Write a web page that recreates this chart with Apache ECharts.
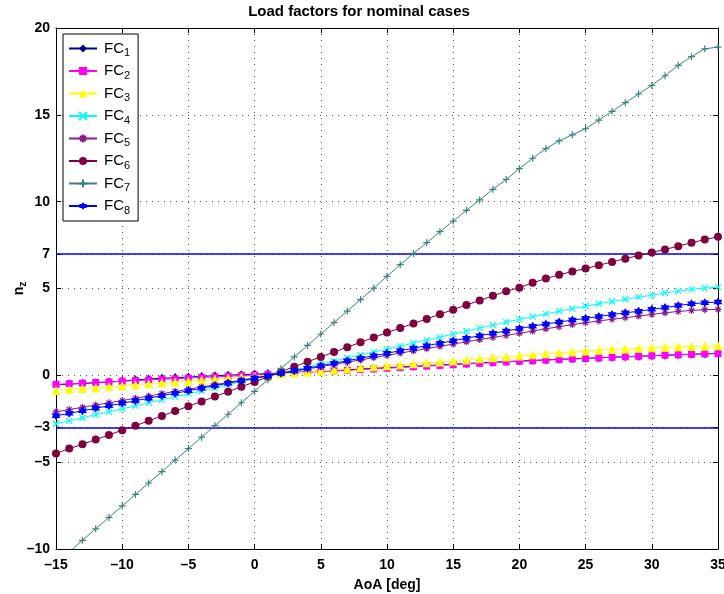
<!DOCTYPE html>
<html>
<head>
<meta charset="utf-8">
<script src="https://cdn.jsdelivr.net/npm/echarts@6/dist/echarts.min.js"></script>
<style>
  html, body { margin: 0; padding: 0; background: #fff; }
  #chart { width: 724px; height: 594px; }
</style>
</head>
<body>
<div id="chart"></div>
<script>
// angle of attack, one point per degree
const aoa = [-15, -14, -13, -12, -11, -10, -9, -8, -7, -6, -5, -4, -3, -2, -1, 0, 1, 2, 3, 4, 5, 6, 7, 8, 9, 10,
  11, 12, 13, 14, 15, 16, 17, 18, 19, 20, 21, 22, 23, 24, 25, 26, 27, 28, 29, 30, 31, 32, 33, 34, 35]

const fc1 = [-0.55, -0.51, -0.47, -0.43, -0.39, -0.33, -0.26, -0.21, -0.17, -0.13, -0.10, -0.06, -0.02, 0.01, 0.04, 0.07,
  0.10, 0.13, 0.17, 0.21, 0.25, 0.29, 0.32, 0.36, 0.40, 0.44, 0.48, 0.52, 0.56, 0.60, 0.64, 0.68, 0.72, 0.76, 0.79,
  0.83, 0.86, 0.89, 0.92, 0.95, 0.98, 1.01, 1.04, 1.07, 1.10, 1.13, 1.16, 1.19, 1.22, 1.24, 1.27]
const fc2 = [-0.52, -0.48, -0.45, -0.41, -0.38, -0.34, -0.30, -0.27, -0.23, -0.20, -0.16, -0.12, -0.09, -0.05, -0.02, 0.02,
  0.06, 0.10, 0.13, 0.17, 0.21, 0.25, 0.29, 0.33, 0.37, 0.41, 0.45, 0.49, 0.53, 0.57, 0.61, 0.65, 0.69, 0.73, 0.77,
  0.81, 0.84, 0.88, 0.91, 0.94, 0.97, 1.00, 1.04, 1.07, 1.10, 1.13, 1.16, 1.18, 1.21, 1.23, 1.25]
const fc3 = [-0.87, -0.82, -0.76, -0.71, -0.65, -0.60, -0.54, -0.49, -0.43, -0.38, -0.32, -0.27, -0.21, -0.16, -0.10, -0.05,
  0.01, 0.07, 0.13, 0.19, 0.25, 0.31, 0.37, 0.43, 0.49, 0.55, 0.60, 0.66, 0.72, 0.77, 0.83, 0.89, 0.95, 1.01, 1.06,
  1.12, 1.18, 1.24, 1.30, 1.35, 1.40, 1.45, 1.49, 1.52, 1.56, 1.59, 1.61, 1.64, 1.66, 1.68, 1.70]
const fc4 = [-2.79, -2.62, -2.44, -2.27, -2.10, -1.93, -1.76, -1.58, -1.41, -1.24, -1.07, -0.90, -0.72, -0.55, -0.38, -0.21,
  -0.04, 0.14, 0.31, 0.48, 0.65, 0.82, 1.00, 1.17, 1.34, 1.51, 1.68, 1.86, 2.03, 2.20, 2.37, 2.54, 2.72, 2.89, 3.07,
  3.22, 3.38, 3.54, 3.69, 3.84, 3.99, 4.12, 4.25, 4.38, 4.50, 4.62, 4.74, 4.85, 4.95, 5.03, 5.08]
const fc5 = [-2.10, -1.97, -1.84, -1.71, -1.58, -1.45, -1.32, -1.19, -1.06, -0.93, -0.80, -0.67, -0.54, -0.41, -0.28, -0.15,
  -0.02, 0.11, 0.24, 0.37, 0.50, 0.63, 0.76, 0.89, 1.02, 1.15, 1.28, 1.41, 1.54, 1.67, 1.80, 1.93, 2.06, 2.18, 2.30,
  2.42, 2.55, 2.68, 2.80, 2.92, 3.03, 3.13, 3.23, 3.32, 3.41, 3.51, 3.60, 3.68, 3.74, 3.78, 3.80]
const fc6 = [-4.50, -4.22, -3.97, -3.70, -3.43, -3.16, -2.90, -2.62, -2.34, -2.06, -1.78, -1.50, -1.22, -0.94, -0.66, -0.38,
  -0.08, 0.21, 0.50, 0.78, 1.06, 1.34, 1.62, 1.90, 2.18, 2.46, 2.72, 2.99, 3.25, 3.52, 3.78, 4.05, 4.31, 4.58, 4.84,
  5.05, 5.33, 5.57, 5.79, 5.98, 6.15, 6.34, 6.53, 6.72, 6.90, 7.08, 7.25, 7.44, 7.63, 7.82, 7.98]
const fc7 = [-10.82, -10.16, -9.50, -8.84, -8.18, -7.52, -6.86, -6.20, -5.54, -4.88, -4.22, -3.56, -2.90, -2.24, -1.58, -0.92,
  -0.26, 0.40, 1.06, 1.72, 2.38, 3.04, 3.70, 4.36, 5.02, 5.70, 6.37, 7.02, 7.64, 8.27, 8.88, 9.50, 10.10, 10.71, 11.28,
  11.90, 12.50, 13.05, 13.50, 13.85, 14.20, 14.70, 15.20, 15.70, 16.20, 16.70, 17.25, 17.85, 18.35, 18.80, 18.90]
const fc8 = [-2.33, -2.19, -2.04, -1.90, -1.75, -1.61, -1.46, -1.32, -1.17, -1.03, -0.89, -0.74, -0.60, -0.45, -0.31, -0.17,
  -0.02, 0.12, 0.27, 0.41, 0.55, 0.70, 0.84, 0.99, 1.13, 1.27, 1.42, 1.56, 1.71, 1.85, 1.99, 2.14, 2.28, 2.42, 2.55,
  2.69, 2.83, 2.96, 3.07, 3.18, 3.28, 3.39, 3.50, 3.60, 3.69, 3.80, 3.90, 4.02, 4.12, 4.18, 4.22]

const series_names = ['FC1', 'FC2', 'FC3', 'FC4', 'FC5', 'FC6', 'FC7', 'FC8']
const series_values = [fc1, fc2, fc3, fc4, fc5, fc6, fc7, fc8]
const y_ticks = [-10, -5, -3, 0, 5, 7, 10, 15, 20]
const limit_values = [7, -3]

const font = "'Liberation Sans', Arial, Helvetica, sans-serif"
const colors = ['#000080', '#ff00ff', '#ffff00', '#00ffff', '#8b1a8b', '#800040', '#408080', '#0000ff']
const symbols = [
  'diamond',
  'rect',
  'triangle',
  'path://M0,0L10,10M0,10L10,0',
  'path://M5,0L5,10M0,5L10,5M1.5,1.5L8.5,8.5M1.5,8.5L8.5,1.5',
  'circle',
  'path://M5,0L5,10M0,5L10,5',
  'path://M5,0L6.44,2.5L9.33,2.5L7.89,5L9.33,7.5L6.44,7.5L5,10L3.56,7.5L0.67,7.5L2.11,5L0.67,2.5L3.56,2.5Z'
]
const symbol_sizes = [[7, 9], 7, 9, 6, 7, 8, 7, 9]
const stroked = [false, false, false, true, true, false, true, false]

const chart = echarts.init(document.getElementById('chart'))

const minus = v => String(v).replace('-', '\u2013')

const line_series = series_names.map((name, k) => ({
  name: name,
  type: 'line',
  data: aoa.map((a, i) => [a, series_values[k][i]]),
  symbol: symbols[k],
  symbolSize: symbol_sizes[k],
  showAllSymbol: true,
  lineStyle: { color: colors[k], width: 1 },
  itemStyle: stroked[k]
    ? { color: colors[k], borderColor: colors[k], borderWidth: 1.2 }
    : { color: colors[k], borderWidth: 0 },
  z: 3 + k
}))

line_series.push({
  name: 'limits',
  type: 'line',
  data: [],
  markLine: {
    silent: true,
    symbol: 'none',
    label: { show: false },
    lineStyle: { color: '#0000ff', width: 1.5, type: 'solid' },
    data: limit_values.map(v => ({ yAxis: v }))
  },
  z: 2
})

const axis_line = { show: true, onZero: false, lineStyle: { color: '#000', width: 1 } }
const grid_line = { show: true, lineStyle: { color: '#555', width: 1, type: [1, 5] } }

const option = {
  animation: false,
  backgroundColor: '#fff',
  textStyle: { fontFamily: font },
  title: {
    text: 'Load factors for nominal cases',
    left: 354,
    textAlign: 'center',
    top: -1,
    textStyle: { fontFamily: font, fontWeight: 'bold', fontSize: 15, color: '#000' }
  },
  legend: {
    data: series_names,
    orient: 'vertical',
    left: 63,
    top: 34,
    padding: [7, 8, 5, 5],
    itemGap: 5,
    itemWidth: 28,
    itemHeight: 10,
    backgroundColor: '#fff',
    borderColor: '#000',
    borderWidth: 1,
    formatter: name => 'FC{s|' + name.slice(2) + '}',
    textStyle: {
      fontFamily: font, fontSize: 15, color: '#000', padding: [0, 0, 0, 2],
      rich: { s: { fontFamily: font, fontSize: 11, color: '#000', padding: [9, 0, 0, 0] } }
    }
  },
  grid: { left: 56, right: 6, top: 28, bottom: 45, containLabel: false, outerBoundsMode: 'none' },
  xAxis: [{
    type: 'value',
    min: -15,
    max: 35,
    interval: 5,
    name: 'AoA [deg]',
    nameLocation: 'middle',
    nameMoveOverlap: false,
    nameGap: 29,
    nameTextStyle: { fontFamily: font, fontWeight: 'bold', fontSize: 14, color: '#000' },
    axisLine: axis_line,
    axisTick: { show: true, inside: true, length: 5, lineStyle: { color: '#000' } },
    axisLabel: { fontFamily: font, fontWeight: 'bold', fontSize: 14, color: '#000', margin: 9, formatter: minus },
    splitLine: grid_line
  }, {
    type: 'value',
    position: 'top',
    min: -15,
    max: 35,
    interval: 5,
    axisLine: axis_line,
    axisTick: { show: true, inside: true, length: 5, lineStyle: { color: '#000' } },
    axisLabel: { show: false },
    splitLine: { show: false }
  }],
  yAxis: [{
    type: 'value',
    min: -10,
    max: 20,
    interval: 5,
    name: 'n{s|z}',
    nameLocation: 'middle',
    nameRotate: 90,
    nameMoveOverlap: false,
    nameGap: 28,
    nameTextStyle: {
      fontFamily: font, fontWeight: 'bold', fontSize: 14, color: '#000',
      rich: { s: { fontFamily: font, fontWeight: 'bold', fontSize: 10, color: '#000', padding: [8, 0, 0, 0] } }
    },
    axisLine: axis_line,
    axisTick: { show: true, inside: true, length: 5, customValues: y_ticks, lineStyle: { color: '#000' } },
    axisLabel: {
      customValues: y_ticks,
      fontFamily: font, fontWeight: 'bold', fontSize: 14, color: '#000', margin: 6, formatter: minus
    },
    splitLine: grid_line
  }, {
    type: 'value',
    position: 'right',
    min: -10,
    max: 20,
    interval: 5,
    axisLine: axis_line,
    axisTick: { show: true, inside: true, length: 5, customValues: y_ticks, lineStyle: { color: '#000' } },
    axisLabel: { show: false },
    splitLine: { show: false }
  }],
  series: line_series
}

chart.setOption(option)
</script>
</body>
</html>
